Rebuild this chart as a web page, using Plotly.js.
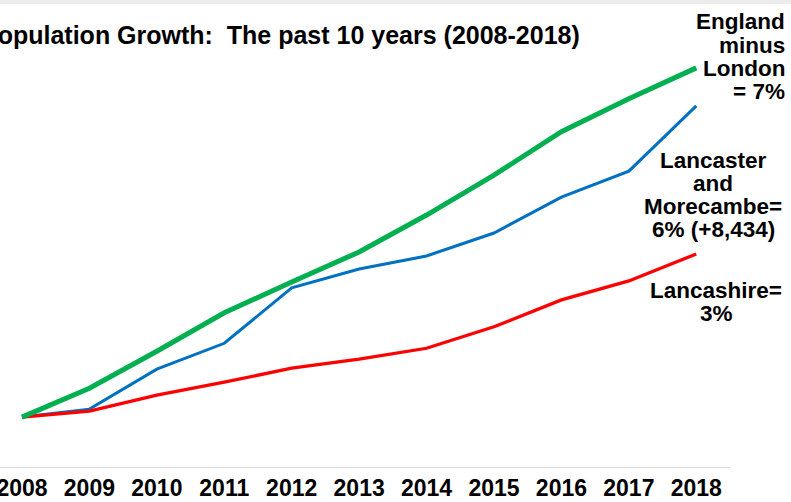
<!DOCTYPE html>
<html>
<head>
<meta charset="utf-8">
<script src="https://cdn.plot.ly/plotly-3.0.1.min.js"></script>
<style>html,body{margin:0;padding:0;background:#fff;}#chart{width:791px;height:502px;}</style>
</head>
<body>
<div id="chart"></div>
<script>
// Data (percentage population growth since 2008)
const years = ['2008','2009','2010','2011','2012','2013','2014','2015','2016','2017','2018'];
const englandMinusLondon = [0, 0.58, 1.32, 2.09, 2.71, 3.31, 4.05, 4.85, 5.72, 6.38, 7.0];
const lancasterMorecambe = [0, 0.16, 0.96, 1.48, 2.59, 2.97, 3.23, 3.69, 4.41, 4.93, 6.24];
const lancashire = [0, 0.12, 0.44, 0.70, 0.98, 1.16, 1.38, 1.81, 2.35, 2.73, 3.27];

const titleText = 'Population Growth:&nbsp; The past 10 years (2008-2018)';
const englandLabel = ['England', 'minus', 'London', '= 7%'];
const lancasterLabel = ['Lancaster', 'and', 'Morecambe=', '6% (+8,434)'];
const lancashireLabel = ['Lancashire=', '3%'];

// layout geometry
const W = 791, H = 502;
const M = {l: 0, r: 61, t: 18, b: 35};
const PW = W - M.l - M.r, PH = H - M.t - M.b;
const px = p => (p - M.l) / PW;
const py = p => (H - M.b - p) / PH;
const FONT = 'Liberation Sans, Arial, sans-serif';

const traces = [
  {x: years, y: lancasterMorecambe, name: 'Lancaster and Morecambe', type: 'scatter', mode: 'lines',
   line: {color: '#0070c0', width: 3}},
  {x: years, y: lancashire, name: 'Lancashire', type: 'scatter', mode: 'lines',
   line: {color: '#ff0000', width: 3.3}},
  {x: years, y: englandMinusLondon, name: 'England minus London', type: 'scatter', mode: 'lines',
   line: {color: '#00b050', width: 5}}
];

const annotations = [];
function addBlock(lines, xPix, anchor, centers) {
  lines.forEach((t, i) => {
    annotations.push({
      text: t, xref: 'paper', yref: 'paper', x: px(xPix), y: py(centers[i]),
      xanchor: anchor, yanchor: 'middle', showarrow: false, align: anchor,
      font: {family: FONT, size: 22.5, color: '#000', weight: 'bold'}
    });
  });
}
addBlock(englandLabel, 787, 'right', [22, 45, 68, 92]);
addBlock(lancasterLabel, 713, 'center', [160, 183, 206, 229]);
addBlock(lancashireLabel, 716, 'center', [290, 313]);

annotations.push({
  text: titleText, xref: 'paper', yref: 'paper', x: px(-21), y: py(35),
  xanchor: 'left', yanchor: 'middle', showarrow: false,
  font: {family: FONT, size: 25, color: '#000', weight: 'bold'}
});

const layout = {
  width: W, height: H,
  margin: M,
  paper_bgcolor: '#ffffff', plot_bgcolor: '#ffffff',
  showlegend: false,
  xaxis: {
    type: 'category', range: [-0.326, 10.5],
    showgrid: false, zeroline: false, showline: true, linecolor: '#d9d9d9', linewidth: 1,
    ticks: '', ticklabelstandoff: 0,
    tickfont: {family: FONT, size: 23, color: '#000', weight: 'bold'},
    fixedrange: true
  },
  yaxis: {
    range: [-1, 8], showgrid: false, zeroline: false, showline: false,
    showticklabels: false, ticks: '', fixedrange: true
  },
  shapes: [{
    type: 'rect', xref: 'paper', yref: 'paper', x0: px(0), x1: px(W), y0: py(4), y1: py(0),
    fillcolor: '#ececec', line: {width: 0}, layer: 'below'
  }],
  annotations: annotations
};

Plotly.newPlot('chart', traces, layout, {displayModeBar: false, staticPlot: true});
</script>
</body>
</html>
